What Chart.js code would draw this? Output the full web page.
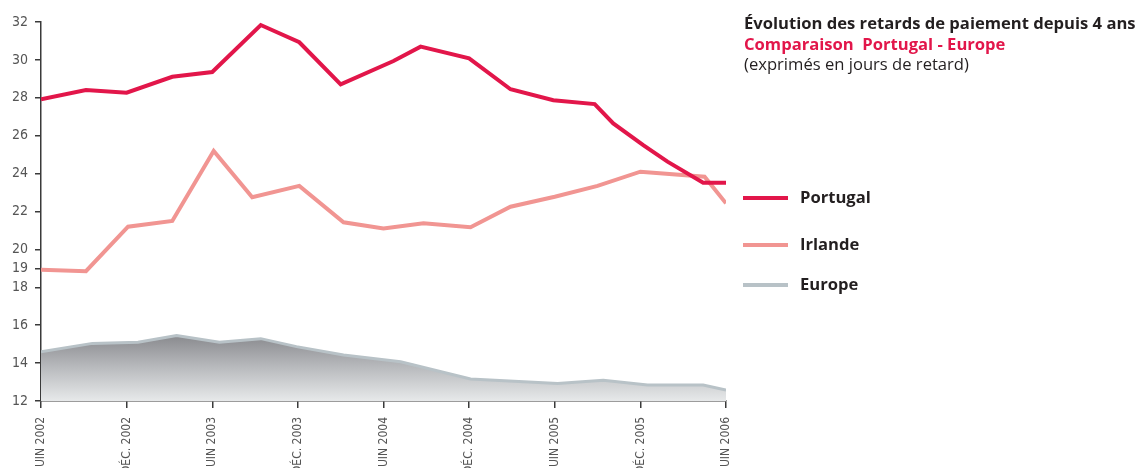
<!DOCTYPE html>
<html lang="fr">
<head>
<meta charset="UTF-8">
<title>Évolution des retards de paiement</title>
<script src="https://cdn.jsdelivr.net/npm/chart.js"></script>
<style>
  html, body { margin: 0; padding: 0; background: #fff; }
  body { width: 1139px; height: 468px; position: relative; overflow: hidden; font-family: 'Open Sans', 'Noto Sans', sans-serif; }
  #graphique { position: absolute; left: 0; top: 0; }
  .titre { position: absolute; left: 744px; top: 13px; font-size: 16.6px; line-height: 20.5px; color: #231f20; white-space: nowrap; }
  .titre b { display: block; }
  .titre .rouge { color: #e2164a; }
  #legende { position: absolute; left: 743px; top: 0; }
  #legende .item { position: absolute; left: 0; white-space: nowrap; }
  #legende .trait { position: absolute; left: 0; top: -2px; width: 45px; height: 4px; }
  #legende .nom { position: absolute; left: 57px; top: 0; transform: translateY(-55%); font-weight: bold; font-size: 16.6px; color: #231f20; }
</style>
</head>
<body>
<canvas id="graphique" width="1139" height="468"></canvas>
<div class="titre">
  <b>Évolution des retards de paiement depuis 4 ans</b>
  <b class="rouge">Comparaison&nbsp; Portugal - Europe</b>
  <span>(exprimés en jours de retard)</span>
</div>
<div id="legende"></div>
<script>
// mois écoulés depuis juin 2002, et délais moyens en jours
const moisPortugal = [0, 3.15, 6, 9.2, 12, 15.4, 18.1, 21, 24.7, 26.6, 30, 32.9, 35.9, 38.8, 40.1, 42.2, 43.9, 46.4, 48];
const retardsPortugal = [27.92, 28.41, 28.27, 29.11, 29.36, 31.84, 30.93, 28.71, 29.94, 30.7, 30.08, 28.45, 27.87, 27.67, 26.65, 25.5, 24.63, 23.52, 23.52];

const moisIrlande = [0, 3.15, 6.1, 9.2, 12.1, 14.8, 18.1, 21.2, 24, 26.8, 30.1, 32.9, 36, 39, 42, 46.5, 48];
const retardsIrlande = [18.93, 18.85, 21.2, 21.5, 25.2, 22.75, 23.35, 21.43, 21.11, 21.38, 21.17, 22.25, 22.78, 23.35, 24.1, 23.84, 22.43];

const moisEurope = [0, 3.6, 6.8, 9.5, 12.5, 15.4, 17.9, 21.2, 25.2, 30.1, 36.2, 39.4, 42.5, 46.4, 48];
const retardsEurope = [14.6, 15.04, 15.1, 15.45, 15.1, 15.29, 14.87, 14.43, 14.07, 13.16, 12.93, 13.1, 12.84, 12.84, 12.58];

const moisEtiquettes = [0, 6, 12, 18, 24, 30, 36, 42, 48];
const etiquettesX = ['JUIN 2002', 'DÉC. 2002', 'JUIN 2003', 'DÉC. 2003', 'JUIN 2004', 'DÉC. 2004', 'JUIN 2005', 'DÉC. 2005', 'JUIN 2006'];
const graduationsY = [12, 14, 16, 18, 19, 20, 22, 24, 26, 28, 30, 32];

const points = (mois, valeurs) => mois.map((m, i) => ({ x: m, y: valeurs[i] }));

const policeAxes = "'Liberation Sans Narrow', 'DejaVu Sans Condensed', 'Liberation Sans', sans-serif";
const couleurAxe = '#3a3a3a';

// dégradé gris sous la courbe Europe
function degradeEurope(ctx) {
  const chart = ctx.chart;
  const zone = chart.chartArea;
  if (!zone) return '#b0b2b5';
  const haut = chart.scales.y.getPixelForValue(15.5);
  const g = chart.ctx.createLinearGradient(0, haut, 0, zone.bottom);
  g.addColorStop(0, '#88898d');
  g.addColorStop(0.5, '#b9bbbe');
  g.addColorStop(1, '#e7e9ea');
  return g;
}

// légende HTML construite à partir des séries
const decalagesLegende = [198, 244.5, 285];
const legendeHtml = {
  id: 'legendeHtml',
  afterUpdate(chart) {
    const boite = document.getElementById('legende');
    boite.innerHTML = '';
    chart.data.datasets.forEach((ds, i) => {
      const item = document.createElement('div');
      item.className = 'item';
      item.style.top = decalagesLegende[i] + 'px';
      const trait = document.createElement('span');
      trait.className = 'trait';
      trait.style.background = ds.borderColor;
      const nom = document.createElement('span');
      nom.className = 'nom';
      nom.textContent = ds.label;
      item.appendChild(trait);
      item.appendChild(nom);
      boite.appendChild(item);
    });
  }
};

new Chart(document.getElementById('graphique'), {
  type: 'line',
  data: {
    datasets: [
      {
        label: 'Portugal',
        data: points(moisPortugal, retardsPortugal),
        borderColor: '#e2164a',
        borderWidth: 4,
        pointRadius: 0,
        fill: false
      },
      {
        label: 'Irlande',
        data: points(moisIrlande, retardsIrlande),
        borderColor: '#f19592',
        borderWidth: 4,
        pointRadius: 0,
        fill: false
      },
      {
        label: 'Europe',
        data: points(moisEurope, retardsEurope),
        borderColor: '#b8c2c7',
        borderWidth: 3,
        pointRadius: 0,
        fill: 'start',
        backgroundColor: degradeEurope
      }
    ]
  },
  options: {
    responsive: false,
    animation: false,
    devicePixelRatio: 1,
    layout: { padding: { left: 0, top: 22, right: 413, bottom: 0 } },
    plugins: {
      legend: { display: false },
      tooltip: { enabled: false }
    },
    scales: {
      x: {
        type: 'linear',
        min: 0,
        max: 48,
        afterBuildTicks: s => { s.ticks = moisEtiquettes.map(v => ({ value: v })); },
        afterFit: s => { s.height = 67; },
        ticks: {
          autoSkip: false,
          minRotation: 90,
          maxRotation: 90,
          padding: 9,
          color: '#555',
          font: { family: policeAxes, size: 12 },
          callback: v => etiquettesX[moisEtiquettes.indexOf(v)]
        },
        grid: { drawOnChartArea: false, tickLength: 7, color: couleurAxe, lineWidth: 1.5 },
        border: { color: couleurAxe, width: 1.5 }
      },
      y: {
        min: 12,
        max: 32,
        afterBuildTicks: s => { s.ticks = graduationsY.map(v => ({ value: v })); },
        afterFit: s => { s.width = 41; },
        ticks: {
          padding: 7,
          color: '#555',
          font: { family: policeAxes, size: 14 }
        },
        grid: { drawOnChartArea: false, tickLength: 6, color: couleurAxe, lineWidth: 1.5 },
        border: { color: couleurAxe, width: 1.5 }
      }
    }
  },
  plugins: [legendeHtml]
});
</script>
</body>
</html>
